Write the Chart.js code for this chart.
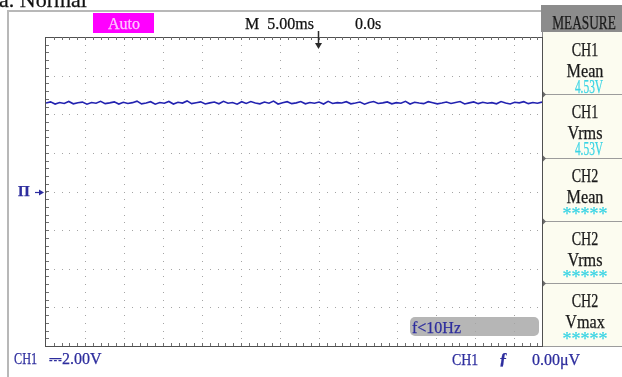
<!DOCTYPE html>
<html><head><meta charset="utf-8">
<script src="https://cdn.jsdelivr.net/npm/chart.js@4.4.1/dist/chart.umd.min.js"></script>
<style>
html,body{margin:0;padding:0;background:#fff;}
#wrap{position:relative;width:622px;height:377px;overflow:hidden;}
canvas{position:absolute;left:0;top:0;}
.t{position:absolute;white-space:nowrap;font-family:"Liberation Serif","Times New Roman",serif;line-height:1;-webkit-text-stroke:0.25px currentColor;}
</style></head><body><div id="wrap"><canvas id="c" width="622" height="377"></canvas></div>
<script>
// ---- data ----
const timeStartMs = -35;      // left edge of the screen (trigger at 0)
const timeEndMs = 28.6;       // right edge (hidden behind the MEASURE panel)
const timeTicksMs = [-35,-30,-25,-20,-15,-10,-5,0,5,10,15,20,25];
const voltTicks = [-8,-6,-4,-2,0,2,4,6,8];
const ch1Volts = [4.58,4.64,4.53,4.61,4.56,4.66,4.54,4.60,4.63,4.52,4.61,4.57,4.67,4.55,4.59,4.64,4.53,4.62,4.56,4.60,
4.68,4.54,4.58,4.65,4.52,4.61,4.57,4.66,4.53,4.62,4.58,4.69,4.55,4.60,4.64,4.53,4.59,4.63,4.54,4.67,
4.57,4.61,4.52,4.65,4.56,4.66,4.58,4.54,4.63,4.57,4.68,4.53,4.60,4.65,4.55,4.59,4.66,4.54,4.61,4.57,
4.63,4.53,4.67,4.56,4.60,4.58,4.65,4.54,4.58,4.63,4.52,4.61,4.66,4.56,4.59,4.64,4.54,4.60,4.57,4.67,
4.53,4.62,4.58,4.55,4.65,4.60,4.54,4.58,4.63,4.56,4.61,4.66,4.53,4.59,4.64,4.55,4.62,4.57,4.60,4.54,
4.66,4.58,4.53,4.62,4.59,4.65,4.55,4.61,4.57,4.63];
const measureItems = [
  {ch:'CH1', name:'Mean', value:'4.53V'},
  {ch:'CH1', name:'Vrms', value:'4.53V'},
  {ch:'CH2', name:'Mean', value:'*****'},
  {ch:'CH2', name:'Vrms', value:'*****'},
  {ch:'CH2', name:'Vmax', value:'*****'}
];

const step = (timeEndMs - timeStartMs) / (ch1Volts.length - 1);
const points = ch1Volts.map((v, i) => ({x: timeStartMs + i * step, y: v}));

const panelRows = [32, 94, 158, 221, 283, 346];

const scope = {
  id: 'scope',
  beforeDraw(chart) {
    const c = chart.ctx, a = chart.chartArea, W = chart.width;
    c.save();
    c.fillStyle = '#fff'; c.fillRect(0, 0, W, chart.height);
    c.strokeStyle = '#b8b8b8'; c.lineWidth = 2;
    c.beginPath(); c.moveTo(8, chart.height); c.lineTo(8, 11); c.lineTo(a.right, 11); c.stroke();
    c.fillStyle = '#ff00ff'; c.fillRect(93, 13, 61, 20);
    c.fillStyle = '#fcfcf0'; c.fillRect(a.right, 32, W - a.right, a.bottom - 32);
    c.fillStyle = '#8c8c8c'; c.fillRect(a.right - 1, 5, W - a.right + 1, 27);
    c.strokeStyle = '#8a8a8a'; c.lineWidth = 1;
    c.beginPath(); c.moveTo(a.right + 0.5, 32); c.lineTo(a.right + 0.5, a.bottom + 1); c.stroke();
    c.strokeStyle = '#9c9c9c';
    panelRows.forEach((y, i) => {
      if (i === 0) return;
      c.beginPath(); c.moveTo(a.right, y + 0.5); c.lineTo(W, y + 0.5); c.stroke();
    });
    c.fillStyle = '#6a6a6a';
    panelRows.slice(1, 5).forEach(y => {
      c.beginPath(); c.moveTo(a.right + 1, y - 2.5); c.lineTo(a.right + 4, y + 0.5); c.lineTo(a.right + 1, y + 3.5); c.fill();
    });
    c.fillStyle = '#b6b6b6';
    c.beginPath(); c.roundRect(410, 317, 129, 19, 5); c.fill();
    c.restore();
  },
  beforeDatasetsDraw(chart) {
    const c = chart.ctx, a = chart.chartArea;
    const xs = chart.scales.x, ys = chart.scales.y;
    c.save();
    c.fillStyle = '#a4a4a4';
    timeTicksMs.forEach(t => {
      if (t === timeStartMs) return;
      const px = Math.round(xs.getPixelForValue(t));
      for (let k = 0; k <= 40; k++) {
        const v = voltTicks[0] + k * 0.4;
        const py = Math.round(ys.getPixelForValue(v));
        c.fillRect(px, py, 1, 1);
      }
    });
    voltTicks.forEach(v => {
      if (v === voltTicks[0] || v === voltTicks[voltTicks.length - 1]) return;
      const py = Math.round(ys.getPixelForValue(v));
      for (let t = timeStartMs; t <= timeEndMs; t += 1) {
        const px = Math.round(xs.getPixelForValue(t));
        c.fillRect(px, py, 1, 1);
      }
    });
    c.strokeStyle = '#505050'; c.lineWidth = 1;
    c.strokeRect(Math.round(a.left) - 0.5, Math.round(a.top) + 0.5, Math.round(a.right - a.left) + 1, Math.round(a.bottom - a.top));
    c.strokeStyle = '#707070';
    c.beginPath();
    for (let t = timeStartMs + 1; t < timeEndMs; t += 1) {
      const px = Math.round(xs.getPixelForValue(t)) + 0.5;
      c.moveTo(px, a.top); c.lineTo(px, a.top + 3);
      c.moveTo(px, a.bottom); c.lineTo(px, a.bottom - 3);
    }
    for (let v = voltTicks[0] + 0.4; v < voltTicks[voltTicks.length - 1]; v += 0.4) {
      const py = Math.round(ys.getPixelForValue(v)) + 0.5;
      c.moveTo(a.left, py); c.lineTo(a.left + 3, py);
    }
    c.stroke();
    c.restore();
  },
  afterDraw(chart) {
    const c = chart.ctx;
    const xs = chart.scales.x, ys = chart.scales.y;
    c.save();
    const tx = Math.round(xs.getPixelForValue(0)) - 0.5;
    c.strokeStyle = '#2a2a2a'; c.fillStyle = '#2a2a2a'; c.lineWidth = 1.5;
    c.beginPath(); c.moveTo(tx, 31); c.lineTo(tx, 44); c.stroke();
    c.beginPath(); c.moveTo(tx - 3.5, 43); c.lineTo(tx + 3.5, 43); c.lineTo(tx, 49); c.closePath(); c.fill();
    const ty = Math.round(ys.getPixelForValue(0)) + 0.5;
    c.strokeStyle = '#2c2ca0'; c.fillStyle = '#2c2ca0'; c.lineWidth = 1.2;
    c.beginPath(); c.moveTo(35, ty); c.lineTo(40, ty); c.stroke();
    c.beginPath(); c.moveTo(39, ty - 3); c.lineTo(44, ty); c.lineTo(39, ty + 3); c.closePath(); c.fill();
    c.restore();
  }
};

new Chart(document.getElementById('c'), {
  type: 'line',
  data: { datasets: [{ data: points, borderColor: '#2222b0', borderWidth: 1.6, pointRadius: 0, tension: 0, fill: false }] },
  options: {
    responsive: false, animation: false, devicePixelRatio: 1,
    layout: { padding: { left: 46, top: 37, right: 80, bottom: 31 } },
    plugins: { legend: { display: false }, tooltip: { enabled: false } },
    scales: {
      x: { type: 'linear', min: timeStartMs, max: timeEndMs, display: false },
      y: { type: 'linear', min: voltTicks[0], max: voltTicks[voltTicks.length - 1], display: false }
    }
  },
  plugins: [scope]
});

// ---- text ----
const wrap = document.getElementById('wrap');
function label(txt, x, baseline, size, color, opts = {}) {
  const d = document.createElement('div');
  d.className = 't';
  d.textContent = txt;
  d.style.fontSize = size + 'px';
  d.style.color = color;
  d.style.top = (baseline - 0.8375 * size) + 'px';
  d.style.left = x + 'px';
  const s = opts.scale || 1;
  if (opts.center) {
    d.style.transform = 'translateX(-50%) scaleX(' + s + ')';
  } else {
    d.style.transformOrigin = 'left center';
    d.style.transform = 'scaleX(' + s + ')';
  }
  if (opts.font) d.style.fontFamily = opts.font;
  if (opts.bold) d.style.fontWeight = 'bold';
  wrap.appendChild(d);
  return d;
}
const BLUE = '#2e2e9e', CYAN = '#3ad4e4';
label('a. Normal', -1, 7, 22, '#111');
label('Auto', 124, 29, 16, '#ffc4ff', {center: true});
label('M\u00a0\u00a05.00ms', 245, 29, 16, '#111');
label('0.0s', 355, 29, 16, '#111');
label('MEASURE', 584, 29, 18, '#1a1a1a', {center: true, scale: 0.74});
measureItems.forEach((m, i) => {
  const top = panelRows[i];
  label(m.ch, 585, top + 24, 18, '#1a1a1a', {center: true, scale: 0.78});
  label(m.name, 585, top + 45, 18, '#1a1a1a', {center: true, scale: 0.9});
  if (m.value.startsWith('*')) label(m.value, 585, top + 62, 18, CYAN, {center: true, scale: 1.0});
  else label(m.value, 589, top + 61, 19, CYAN, {center: true, scale: 0.6});
});
label('CH1', 14, 364, 17, BLUE, {scale: 0.72});
label('\u23932.00V', 49, 364, 16, BLUE, {font: '"Liberation Serif","DejaVu Sans",serif'});
label('CH1', 452, 365, 17, BLUE, {scale: 0.82});
label('\u0192', 499, 364, 17, BLUE, {bold: true});
label('0.00\u03bcV', 532, 365, 16, BLUE);
label('f<10Hz', 412, 333, 16, BLUE);
label('\u03a0', 18, 197, 15, BLUE, {bold: true});
</script>
</body></html>
